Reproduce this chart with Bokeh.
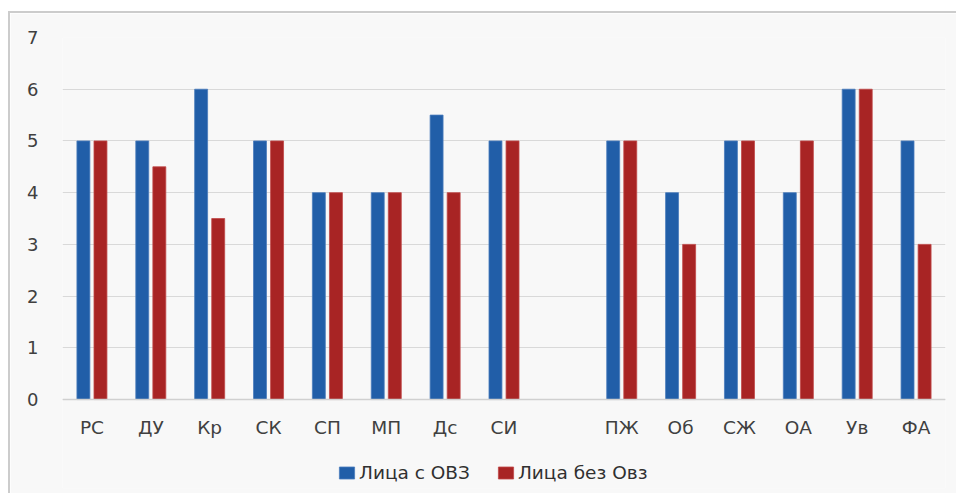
from bokeh.plotting import figure
from bokeh.models import ColumnDataSource, FactorRange, Range1d, Legend, LegendItem, FixedTicker, Span
from bokeh.transform import dodge
from bokeh.embed import file_html
from bokeh.resources import INLINE

categories = ["РС", "ДУ", "Кр", "СК", "СП", "МП", "Дс", "СИ", " ", "ПЖ", "Об", "СЖ", "ОА", "Ув", "ФА"]
bar_categories = ["РС", "ДУ", "Кр", "СК", "СП", "МП", "Дс", "СИ", "ПЖ", "Об", "СЖ", "ОА", "Ув", "ФА"]
with_ovz = [5, 5, 6, 5, 4, 4, 5.5, 5, 5, 4, 5, 4, 6, 5]
without_ovz = [5, 4.5, 3.5, 5, 4, 4, 4, 5, 5, 3, 5, 5, 6, 3]
series_names = ["Лица с ОВЗ", "Лица без Овз"]
y_ticks = [0, 1, 2, 3, 4, 5, 6, 7]

src = ColumnDataSource(dict(cat=bar_categories, a=with_ovz, b=without_ovz))
lab_src = ColumnDataSource(dict(cat=bar_categories, base=[0] * len(bar_categories)))

FONT = "DejaVu Sans"
BG = "#f8f8f8"

p = figure(x_range=FactorRange(factors=categories, range_padding=0),
           y_range=Range1d(-1.72, 7), x_axis_location=None,
           width=948, height=482, output_backend="svg", toolbar_location=None,
           min_border_left=52, min_border_right=13, min_border_top=24, min_border_bottom=7)
p.background_fill_color = BG
p.border_fill_color = BG
p.outline_line_color = None

r1 = p.vbar(x=dodge("cat", -0.145, range=p.x_range), top="a", width=0.22, source=src,
            fill_color="#215EA8", line_color="#4a7cbc", line_width=0.8)
r2 = p.vbar(x=dodge("cat", 0.145, range=p.x_range), top="b", width=0.22, source=src,
            fill_color="#A82424", line_color="#c04848", line_width=0.8)

# category axis labels
p.text(x="cat", y="base", text="cat", source=lab_src, y_offset=17,
       text_align="center", text_baseline="top", text_font_size="18.5px",
       text_font={"value": FONT}, text_color="#404040")

p.xgrid.grid_line_color = None
p.ygrid.grid_line_color = "#d9d9d9"
p.ygrid.grid_line_width = 1.2
p.yaxis.ticker = FixedTicker(ticks=y_ticks)
p.yaxis.axis_line_color = None
p.yaxis.major_tick_line_color = None
p.yaxis.minor_tick_line_color = None
p.yaxis.major_label_standoff = 18
p.yaxis.major_label_text_font = FONT
p.yaxis.major_label_text_font_size = "18px"
p.yaxis.major_label_text_color = "#404040"

p.add_layout(Span(location=0, dimension="width", line_color="#d0d0d0", line_width=1.6))

legend = Legend(items=[LegendItem(label=series_names[0], renderers=[r1]),
                       LegendItem(label=series_names[1], renderers=[r2])],
                orientation="horizontal", location=(275, 5),
                padding=0, margin=0, spacing=26, label_standoff=3,
                glyph_width=19, glyph_height=15,
                label_text_font=FONT, label_text_font_size="18.5px", label_text_color="#303030",
                background_fill_alpha=0, border_line_color=None)
p.add_layout(legend, "center")

# outer chart border
p.styles = {"margin-left": "8px", "margin-top": "11px",
            "border-top": "2px solid #cccccc", "border-left": "2px solid #cccccc"}

open("out.html", "w").write(file_html(p, INLINE))
